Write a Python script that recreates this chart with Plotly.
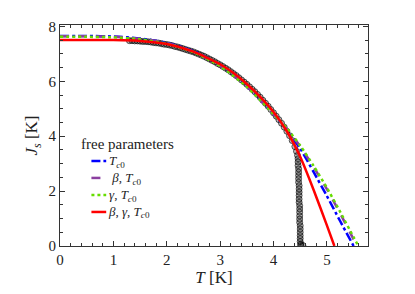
import plotly.graph_objects as go

# Fit curves
T_red = [0.0, 0.5, 1.0, 1.5, 2.0, 2.5, 3.0, 3.25, 3.5, 3.75, 4.0, 4.25, 4.5, 4.75, 5.0, 5.14]
J_red = [7.50, 7.50, 7.50, 7.47, 7.36, 7.08, 6.62, 6.30, 5.90, 5.43, 4.88, 4.18, 3.25, 2.05, 0.75, 0.0]

T_blue = [0.0, 0.5, 1.0, 1.5, 2.0, 2.5, 3.0, 3.5, 4.0, 4.25, 4.5, 4.75, 5.0, 5.25, 5.5]
J_blue = [7.65, 7.65, 7.63, 7.56, 7.40, 7.10, 6.58, 5.82, 4.80, 4.24, 3.55, 2.70, 1.82, 0.90, 0.0]

T_purple = [0.0, 0.5, 1.0, 1.5, 2.0, 2.5, 3.0, 3.5, 4.0, 4.25, 4.5, 4.75, 5.0, 5.25, 5.5, 5.57]
J_purple = [7.64, 7.64, 7.62, 7.55, 7.39, 7.08, 6.56, 5.81, 4.80, 4.27, 3.63, 2.88, 2.07, 1.18, 0.24, 0.0]

T_green = [0.0, 0.5, 1.0, 1.5, 2.0, 2.5, 3.0, 3.5, 4.0, 4.25, 4.5, 4.75, 5.0, 5.25, 5.5, 5.59]
J_green = [7.62, 7.62, 7.60, 7.53, 7.37, 7.06, 6.55, 5.80, 4.80, 4.28, 3.66, 2.92, 2.12, 1.24, 0.32, 0.0]

# Measured data points
T_data = [1.30, 1.35, 1.40, 1.45, 1.50, 1.55, 1.60, 1.65, 1.70, 1.75, 1.80, 1.85, 1.90, 1.95,
          2.00, 2.05, 2.10, 2.15, 2.20, 2.25, 2.30, 2.35, 2.40, 2.45, 2.50, 2.55, 2.60, 2.65,
          2.70, 2.75, 2.80, 2.85, 2.90, 2.95, 3.00, 3.05, 3.10, 3.15, 3.20, 3.25, 3.30, 3.35,
          3.40, 3.45, 3.50, 3.55, 3.60, 3.65, 3.70, 3.75, 3.80, 3.85, 3.90, 3.95, 4.00, 4.05,
          4.10, 4.15, 4.20, 4.25, 4.30, 4.35, 4.40, 4.43, 4.45,
          4.46, 4.46, 4.46, 4.47, 4.47, 4.47, 4.47, 4.47, 4.48, 4.48, 4.48, 4.48, 4.48, 4.48,
          4.49, 4.49, 4.49, 4.49, 4.49, 4.49, 4.50, 4.50, 4.50, 4.50, 4.50, 4.50, 4.51, 4.51,
          4.55]
J_data = [7.48, 7.48, 7.47, 7.47, 7.46, 7.45, 7.45, 7.44, 7.43, 7.41, 7.40, 7.39, 7.37, 7.35,
          7.34, 7.32, 7.30, 7.27, 7.25, 7.22, 7.19, 7.16, 7.13, 7.10, 7.07, 7.03, 6.99, 6.95,
          6.91, 6.86, 6.81, 6.76, 6.71, 6.65, 6.60, 6.54, 6.48, 6.42, 6.35, 6.28, 6.21, 6.13,
          6.05, 5.97, 5.89, 5.80, 5.71, 5.62, 5.52, 5.42, 5.31, 5.20, 5.09, 4.97, 4.85, 4.73,
          4.60, 4.47, 4.33, 4.18, 4.02, 3.84, 3.62, 3.45, 3.30,
          3.18, 3.06, 2.93, 2.81, 2.69, 2.57, 2.45, 2.32, 2.20, 2.08, 1.96, 1.84, 1.71, 1.59,
          1.47, 1.35, 1.23, 1.10, 0.98, 0.86, 0.74, 0.62, 0.50, 0.38, 0.27, 0.16, 0.07, 0.02,
          0.02]

x_ticks = [0, 1, 2, 3, 4, 5]
y_ticks = [0, 2, 4, 6, 8]

legend_title = "free parameters"
legend_labels = [
    "<i>T</i><sub><i>c</i>0</sub>",
    "\u00a0<i>β</i>, <i>T</i><sub><i>c</i>0</sub>",
    "<i>γ</i>, <i>T</i><sub><i>c</i>0</sub>",
    "<i>β</i>, <i>γ</i>, <i>T</i><sub><i>c</i>0</sub>",
]

FONT = "Liberation Serif"
TXT = "#222"

styles = [
    dict(color="#0000ff", dash="dashdot"),
    dict(color="#8b3fa0", dash="dash"),
    dict(color="#66dd00", dash="dot"),
    dict(color="#ff0000", dash="solid"),
]
series = [(T_blue, J_blue), (T_purple, J_purple), (T_green, J_green), (T_red, J_red)]

fig = go.Figure()
fig.add_trace(go.Scatter(
    x=T_data, y=J_data, mode="markers", showlegend=False,
    marker=dict(size=6, color="rgba(0,0,0,0.28)", line=dict(color="rgba(0,0,0,0.6)", width=1)),
))
for (tx, jy), st, lab in zip(series, styles, legend_labels):
    fig.add_trace(go.Scatter(
        x=tx, y=jy, mode="lines", name=lab, showlegend=False,
        line=dict(color=st["color"], width=2.5, dash=st["dash"], shape="spline", smoothing=0.6),
    ))

# Legend drawn by hand (short line samples, tight rows like the reference)
fig.add_annotation(
    xref="paper", yref="paper", x=0.062, y=0.462, xanchor="left", yanchor="middle",
    text=legend_title, showarrow=False, font=dict(family=FONT, size=15, color=TXT),
)
row_y = [0.385, 0.308, 0.231, 0.154]
for st, yy in zip(styles, row_y):
    fig.add_shape(
        type="line", xref="paper", yref="paper", x0=0.102, x1=0.150, y0=yy, y1=yy,
        line=dict(color=st["color"], width=2.5, dash=st["dash"]),
    )
fig.add_annotation(
    xref="paper", yref="paper", x=0.154, y=sum(row_y) / len(row_y), xanchor="left", yanchor="middle",
    text="<br>".join(legend_labels), align="left", showarrow=False,
    font=dict(family=FONT, size=13, color=TXT), borderpad=0,
)

axis_common = dict(
    showgrid=False, zeroline=False, showline=True, linecolor="#333", linewidth=1,
    mirror="ticks", ticks="inside", ticklen=5, tickcolor="#333", tickwidth=1,
    tickfont=dict(family=FONT, size=15, color=TXT), automargin=False,
)
fig.update_xaxes(
    range=[0, 5.77], tickvals=x_ticks, ticktext=[str(v) for v in x_ticks],
    minor=dict(dtick=0.2, ticks="inside", ticklen=3, tickcolor="#333", showgrid=False),
    title=dict(text="<i>T</i> [K]", font=dict(family=FONT, size=17, color=TXT), standoff=4),
    **axis_common,
)
fig.update_yaxes(
    range=[0, 8.05], tickvals=y_ticks, ticktext=[str(v) for v in y_ticks],
    minor=dict(dtick=0.5, ticks="inside", ticklen=3, tickcolor="#333", showgrid=False),
    title=dict(text="<i>J<sub>s</sub></i> [K]", font=dict(family=FONT, size=17, color=TXT), standoff=6),
    **axis_common,
)
fig.update_layout(
    width=407, height=286,
    margin=dict(l=52, r=47, t=17, b=48, autoexpand=False),
    paper_bgcolor="white", plot_bgcolor="white",
    showlegend=False,
)
fig.write_html("out.html")
